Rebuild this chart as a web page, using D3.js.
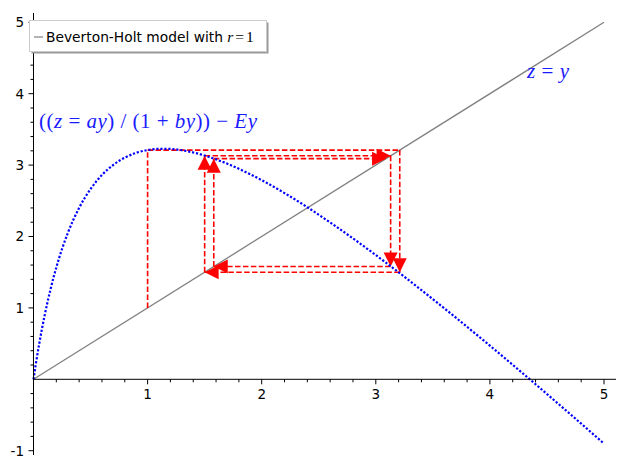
<!DOCTYPE html>
<html>
<head>
<meta charset="utf-8">
<script src="https://cdn.jsdelivr.net/npm/d3@7"></script>
<style>
  html, body { margin: 0; padding: 0; background: #fff; }
  svg { display: block; }
</style>
</head>
<body>
<svg id="chart" width="628" height="469"></svg>
<script>
// ---- data ----
const curveX = [0, 0.02, 0.05, 0.1, 0.15, 0.2, 0.25, 0.3, 0.4, 0.5, 0.6, 0.7, 0.8, 0.9, 1.0, 1.1, 1.2, 1.3, 1.4, 1.5, 1.6, 1.7, 1.8, 1.9, 2.0, 2.2, 2.4, 2.6, 2.8, 3.0, 3.2, 3.4, 3.6, 3.8, 4.0, 4.2, 4.4, 4.6, 4.8, 5.0];
const curveY = [0, 0.209, 0.496, 0.913, 1.266, 1.567, 1.825, 2.046, 2.401, 2.665, 2.861, 3.004, 3.104, 3.172, 3.211, 3.228, 3.226, 3.208, 3.177, 3.134, 3.080, 3.018, 2.948, 2.872, 2.789, 2.608, 2.410, 2.197, 1.973, 1.740, 1.498, 1.249, 0.995, 0.735, 0.471, 0.203, -0.069, -0.344, -0.621, -0.901];
const diagonal = [[0, 0], [5, 5]];
const iterates = [1, 3.21, 1.50, 3.13, 1.58, 3.09];
const xTicks = [1, 2, 3, 4, 5];
const yTicks = [-1, 1, 2, 3, 4, 5];
const legendLabel = "Beverton-Holt model with ";

// ---- layout ----
const svg = d3.select("#chart");
const x = d3.scaleLinear().domain([0, 5]).range([33.5, 604]);
const y = d3.scaleLinear().domain([-1, 5]).range([450.7, 22.3]);

// diagonal z = y
svg.append("path")
  .attr("d", d3.line().x(d => x(d[0])).y(d => y(d[1]))(diagonal))
  .attr("fill", "none").attr("stroke", "#808080").attr("stroke-width", 1.3);

// cobweb segments
const segs = [];
for (let i = 0; i < iterates.length - 1; i++) {
  const a = iterates[i], b = iterates[i + 1];
  segs.push({x1: a, y1: a, x2: a, y2: b});
  segs.push({x1: a, y1: b, x2: b, y2: b});
}
const cob = svg.append("g");
cob.selectAll("line").data(segs).join("line")
  .attr("x1", d => x(d.x1)).attr("y1", d => y(d.y1))
  .attr("x2", d => x(d.x2)).attr("y2", d => y(d.y2))
  .attr("stroke", "#ff0000").attr("stroke-width", 1.6)
  .attr("stroke-dasharray", "5.5,2.4");

// arrowheads (tip at end point) for all but the first step
const headLen = 14, headHalf = 7;
cob.selectAll("path.head").data(segs.slice(2)).join("path")
  .attr("class", "head")
  .attr("fill", "#ff0000")
  .attr("d", d => {
    const tx = x(d.x2), ty = y(d.y2);
    const dx = x(d.x2) - x(d.x1), dy = y(d.y2) - y(d.y1);
    const L = Math.hypot(dx, dy), ux = dx / L, uy = dy / L;
    const bx = tx - ux * headLen, by = ty - uy * headLen;
    return `M${tx},${ty}L${bx - uy * headHalf},${by + ux * headHalf}L${bx + uy * headHalf},${by - ux * headHalf}Z`;
  });

// curve (dotted blue)
const pts = curveX.map((v, i) => [v, curveY[i]]);
svg.append("path")
  .attr("d", d3.line().x(d => x(d[0])).y(d => y(d[1])).curve(d3.curveMonotoneX)(pts))
  .attr("fill", "none").attr("stroke", "#0000ff").attr("stroke-width", 2.2)
  .attr("stroke-dasharray", "2.2,1.8");

// axes
const xAxis = svg.append("g").attr("transform", `translate(0,${y(0)})`);
xAxis.append("line").attr("x1", x(0)).attr("x2", 616).attr("stroke", "#000").attr("stroke-width", 1);
const xMinor = d3.range(1, 26).map(i => i * 0.2).filter(v => Math.abs(v - Math.round(v)) > 1e-6);
xAxis.selectAll("line.minor").data(xMinor).join("line").attr("class", "minor")
  .attr("x1", d => x(d)).attr("x2", d => x(d)).attr("y1", 0).attr("y2", 3)
  .attr("stroke", "#000").attr("stroke-width", 1);
xAxis.selectAll("line.major").data(xTicks).join("line").attr("class", "major")
  .attr("x1", d => x(d)).attr("x2", d => x(d)).attr("y1", 0).attr("y2", 5)
  .attr("stroke", "#000").attr("stroke-width", 1);
xAxis.selectAll("text").data(xTicks).join("text")
  .attr("x", d => x(d)).attr("y", 19.5).attr("text-anchor", "middle")
  .attr("font-family", "DejaVu Sans").attr("font-size", 13.5).text(d => d);

const yAxis = svg.append("g").attr("transform", `translate(${x(0)},0)`);
yAxis.append("line").attr("y1", 13).attr("y2", 455).attr("stroke", "#000").attr("stroke-width", 1);
const yMinor = d3.range(-5, 26).map(i => i * 0.2).filter(v => Math.abs(v - Math.round(v)) > 1e-6);
yAxis.selectAll("line.minor").data(yMinor).join("line").attr("class", "minor")
  .attr("y1", d => y(d)).attr("y2", d => y(d)).attr("x1", 0).attr("x2", -3)
  .attr("stroke", "#000").attr("stroke-width", 1);
yAxis.selectAll("line.major").data(yTicks).join("line").attr("class", "major")
  .attr("y1", d => y(d)).attr("y2", d => y(d)).attr("x1", 0).attr("x2", -5)
  .attr("stroke", "#000").attr("stroke-width", 1);
yAxis.selectAll("text").data(yTicks).join("text")
  .attr("x", -9.5).attr("y", d => y(d)).attr("dy", "0.36em").attr("text-anchor", "end")
  .attr("font-family", "DejaVu Sans").attr("font-size", 13.5).text(d => d);

// math labels
const mathFont = "'Liberation Serif', serif";
const eq = svg.append("text").attr("x", 39).attr("y", 128)
  .attr("font-family", mathFont).attr("font-size", 21).attr("fill", "#1a1aff")
  .attr("textLength", 218).attr("lengthAdjust", "spacing");
const parts = [["((", 0], ["z", 1], [" = ", 0], ["ay", 1], [") / (1 + ", 0], ["by", 1], [")) − ", 0], ["Ey", 1]];
parts.forEach(p => eq.append("tspan").attr("font-style", p[1] ? "italic" : "normal").text(p[0]));

const zy = svg.append("text").attr("x", 527).attr("y", 78)
  .attr("font-family", mathFont).attr("font-size", 21).attr("fill", "#1a1aff")
  .attr("textLength", 42).attr("lengthAdjust", "spacing");
[["z", 1], [" = ", 0], ["y", 1]].forEach(p => zy.append("tspan").attr("font-style", p[1] ? "italic" : "normal").text(p[0]));

// legend
const lg = svg.append("g");
lg.append("rect").attr("x", 31.5).attr("y", 22.5).attr("width", 237).attr("height", 31).attr("fill", "#999");
lg.append("rect").attr("x", 29.5).attr("y", 20.5).attr("width", 237).attr("height", 31)
  .attr("fill", "#fff").attr("stroke", "#cccccc").attr("stroke-width", 1);
lg.append("line").attr("x1", 34).attr("x2", 43).attr("y1", 37).attr("y2", 37)
  .attr("stroke", "#808080").attr("stroke-width", 1.2);
const lt = lg.append("text").attr("x", 46).attr("y", 41.5)
  .attr("font-family", "DejaVu Sans").attr("font-size", 13.8).attr("fill", "#000");
lt.append("tspan").text(legendLabel);
lt.append("tspan").attr("font-family", mathFont).attr("font-style", "italic").attr("font-size", 15.5).text("r");
lt.append("tspan").attr("font-family", mathFont).attr("font-size", 15.5).attr("dx", 2).text("=");
lt.append("tspan").attr("font-family", mathFont).attr("font-size", 15.5).attr("dx", 2).text("1");
</script>
</body>
</html>
